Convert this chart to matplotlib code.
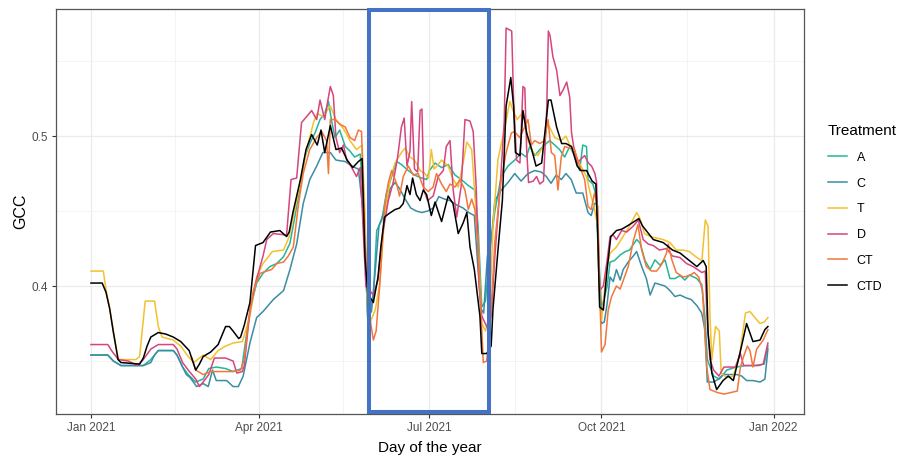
import numpy as np
import pandas as pd
import matplotlib
matplotlib.use('Agg')
import matplotlib.pyplot as plt
from matplotlib.patches import Rectangle

plt.rcParams['font.family'] = ['Liberation Sans', 'DejaVu Sans']

start = pd.Timestamp('2021-01-01')

# (days since 1 Jan 2021, GCC)
a_pts = [(0, 0.354), (9, 0.354), (12, 0.35), (16, 0.347), (28, 0.347), (32, 0.351), (36, 0.357),
         (44, 0.357), (46, 0.354), (49, 0.346), (52, 0.341), (56, 0.336), (60, 0.338), (63, 0.345),
         (67, 0.346), (72, 0.345), (76, 0.343), (80.6, 0.345), (83, 0.366), (86, 0.389), (88.6, 0.402),
         (92, 0.4085), (95.7, 0.413), (99.3, 0.415), (103, 0.4196), (106.4, 0.4285), (109, 0.446),
         (111.8, 0.466), (114.4, 0.486), (117, 0.495), (119.8, 0.502), (122.5, 0.511), (125, 0.515),
         (127, 0.523), (128.7, 0.51), (130.5, 0.499), (133, 0.504), (136, 0.493), (138.5, 0.49),
         (141, 0.486), (144, 0.488), (146, 0.45), (148, 0.377), (151, 0.393), (152.8, 0.437),
         (155.5, 0.444), (158, 0.462), (160.8, 0.473), (163.5, 0.483), (166, 0.481), (169.7, 0.477),
         (173, 0.474), (176.8, 0.472), (179.5, 0.471), (181, 0.477), (184, 0.482), (187.5, 0.479),
         (191, 0.481), (194.7, 0.474), (198, 0.471), (201.8, 0.467), (205.3, 0.464), (207, 0.44),
         (209, 0.386), (211, 0.39), (213, 0.42), (216, 0.45), (219.4, 0.473), (223, 0.48),
         (226.6, 0.484), (230, 0.4885), (232.8, 0.486), (234.6, 0.493), (237.3, 0.487), (240, 0.491),
         (242.6, 0.494), (245.3, 0.497), (248, 0.494), (250.6, 0.491), (253.3, 0.486), (256, 0.493),
         (258.6, 0.487), (261.3, 0.477), (263, 0.494), (265, 0.493), (265.8, 0.471), (268.4, 0.468),
         (270.2, 0.46), (271.5, 0.42), (273, 0.385), (276, 0.3996), (277.6, 0.416), (280, 0.417),
         (283, 0.4207), (285.6, 0.4229), (288, 0.424), (291.8, 0.431), (293.6, 0.4287), (296.3, 0.417),
         (299, 0.411), (301.6, 0.4174), (304.3, 0.414), (307, 0.4174), (309.6, 0.405), (312.3, 0.405),
         (315, 0.407), (317.6, 0.404), (320, 0.4074), (324, 0.405), (326.6, 0.401), (328.3, 0.38),
         (329.6, 0.351), (333, 0.34), (336, 0.338), (340, 0.344), (345, 0.346), (350, 0.347),
         (355, 0.347), (360, 0.348), (362, 0.36)]

c_pts = [(0, 0.354), (9, 0.354), (12, 0.35), (16, 0.347), (28, 0.347), (32, 0.349), (34, 0.354),
         (36, 0.357), (44, 0.357), (46, 0.354), (49, 0.346), (51, 0.341), (53, 0.339), (56.5, 0.333),
         (60, 0.335), (62.7, 0.333), (65, 0.344), (67, 0.337), (72.6, 0.337), (76, 0.333),
         (78.8, 0.333), (81.4, 0.34), (85, 0.362), (88.6, 0.379), (92, 0.383), (97.5, 0.391),
         (103, 0.397), (106.4, 0.411), (110, 0.428), (113.5, 0.455), (117, 0.471), (120.7, 0.48),
         (124, 0.489), (128, 0.489), (131, 0.484), (136, 0.483), (140, 0.4796), (143, 0.478),
         (145.5, 0.45), (148, 0.38), (150, 0.383), (152, 0.41), (154, 0.44), (157, 0.45), (160, 0.465),
         (162.6, 0.469), (165, 0.465), (168, 0.458), (171, 0.452), (174, 0.45), (177, 0.449),
         (180, 0.45), (183, 0.452), (186, 0.4596), (189, 0.458), (192, 0.457), (195.6, 0.454),
         (199, 0.452), (202, 0.449), (205, 0.447), (206.5, 0.42), (208.5, 0.385), (210, 0.382),
         (212, 0.42), (214, 0.43), (216, 0.457), (219.4, 0.464), (223, 0.469), (226.6, 0.475),
         (230, 0.47), (233.7, 0.475), (237.3, 0.477), (240.8, 0.476), (243.5, 0.473), (246, 0.4685),
         (248.8, 0.474), (251.5, 0.471), (254, 0.475), (256.8, 0.471), (259.5, 0.462), (263, 0.462),
         (265.8, 0.449), (267.5, 0.447), (269.3, 0.455), (270.4, 0.455), (271.5, 0.41), (273, 0.375),
         (274.5, 0.376), (276, 0.388), (277.6, 0.406), (279.3, 0.403), (281, 0.411), (283, 0.404),
         (284.6, 0.411), (287.3, 0.416), (290, 0.42), (291.8, 0.423), (294.5, 0.413), (297, 0.405),
         (299, 0.394), (301.6, 0.402), (304.3, 0.401), (307, 0.4), (309.6, 0.397), (312.3, 0.393),
         (315, 0.394), (318.5, 0.392), (321, 0.391), (324, 0.387), (326.6, 0.382), (328.3, 0.371),
         (329.6, 0.336), (332.9, 0.336), (335.6, 0.338), (338.3, 0.341), (342, 0.341), (345.5, 0.341),
         (348, 0.34), (350.6, 0.337), (354, 0.337), (357.8, 0.336), (360.4, 0.338), (362, 0.358)]

t_pts = [(0, 0.41), (6.6, 0.41), (8, 0.398), (10, 0.385), (12, 0.37), (14.6, 0.351), (24, 0.351),
         (26, 0.353), (29, 0.39), (34, 0.39), (36, 0.373), (38, 0.366), (44, 0.364), (48, 0.36),
         (52, 0.353), (55, 0.349), (60, 0.354), (64, 0.351), (68, 0.357), (72, 0.36), (76, 0.362),
         (81, 0.363), (85, 0.38), (88.6, 0.406), (92, 0.415), (97, 0.423), (103, 0.424), (106, 0.433),
         (109, 0.451), (112, 0.469), (115, 0.489), (119, 0.509), (121, 0.515), (124, 0.513),
         (128, 0.52), (131, 0.511), (135, 0.505), (138.5, 0.497), (142, 0.491), (145, 0.494),
         (146.5, 0.45), (148, 0.38), (149, 0.375), (152, 0.384), (154.5, 0.402), (157, 0.446),
         (160, 0.471), (162.6, 0.482), (166, 0.489), (168, 0.492), (170.6, 0.486), (173, 0.484),
         (176, 0.477), (178.6, 0.475), (180.5, 0.472), (182, 0.491), (183.5, 0.478), (185, 0.48),
         (187.5, 0.484), (191, 0.48), (193.7, 0.471), (196.4, 0.466), (199, 0.482), (201, 0.496),
         (203.6, 0.491), (205, 0.466), (207, 0.431), (209, 0.375), (211, 0.37), (213, 0.38),
         (215, 0.44), (217.6, 0.484), (221, 0.504), (224, 0.523), (225.7, 0.517), (228, 0.511),
         (231, 0.516), (233.7, 0.497), (236.4, 0.489), (239, 0.487), (241.7, 0.493), (244, 0.509),
         (248, 0.499), (251.5, 0.497), (254, 0.5), (257, 0.491), (259.5, 0.486), (262, 0.48),
         (265, 0.473), (267, 0.462), (269, 0.453), (271, 0.44), (272, 0.39), (273, 0.377),
         (276, 0.413), (277.6, 0.422), (281, 0.426), (284.5, 0.433), (288, 0.44), (291.8, 0.449),
         (293.6, 0.445), (296, 0.435), (299, 0.433), (302.5, 0.432), (306, 0.431), (309.6, 0.429),
         (313, 0.424), (316.7, 0.424), (320, 0.423), (324, 0.419), (326.7, 0.417), (328.5, 0.444),
         (330, 0.44), (331, 0.38), (332, 0.351), (334, 0.373), (336, 0.37), (337, 0.342),
         (340, 0.339), (343.5, 0.34), (347, 0.355), (350, 0.382), (352.4, 0.383), (355, 0.379),
         (357.8, 0.375), (360, 0.376), (362, 0.379)]

d_pts = [(0, 0.361), (9, 0.361), (11, 0.357), (14.6, 0.351), (20, 0.35), (25, 0.347), (28, 0.351),
         (32, 0.358), (36, 0.361), (44, 0.361), (46, 0.358), (49, 0.349), (52, 0.344), (56, 0.338),
         (58, 0.333), (60, 0.336), (63, 0.341), (66, 0.352), (72, 0.352), (76, 0.35), (78, 0.342),
         (81, 0.343), (82, 0.347), (85, 0.384), (88, 0.402), (90, 0.411), (92, 0.42), (94, 0.431),
         (97.5, 0.435), (104.6, 0.434), (107, 0.471), (110, 0.472), (112.6, 0.509), (114, 0.511),
         (118, 0.517), (120.7, 0.511), (122.5, 0.524), (125, 0.511), (127, 0.526), (128, 0.533),
         (129.6, 0.527), (131, 0.499), (133, 0.489), (135, 0.494), (136.7, 0.484), (139, 0.48),
         (142, 0.473), (144, 0.479), (145.5, 0.44), (147, 0.4), (149, 0.397), (151, 0.394),
         (153.5, 0.404), (156, 0.435), (159, 0.457), (161.6, 0.469), (164, 0.486), (166, 0.506),
         (167.5, 0.512), (169, 0.48), (170.6, 0.49), (171.5, 0.523), (173, 0.478), (174.7, 0.476),
         (176, 0.517), (177, 0.518), (178, 0.464), (180, 0.457), (183, 0.46), (185.7, 0.473),
         (188.4, 0.477), (190, 0.493), (192, 0.497), (193.7, 0.464), (195.6, 0.446), (198, 0.467),
         (200, 0.511), (202.7, 0.51), (204.4, 0.503), (206, 0.466), (207.5, 0.402), (209, 0.38),
         (212, 0.372), (214, 0.38), (216, 0.42), (219, 0.47), (221, 0.51), (222, 0.572),
         (225, 0.57), (226, 0.524), (227.6, 0.484), (229.4, 0.482), (231, 0.533), (232, 0.532),
         (233, 0.491), (234, 0.469), (236.5, 0.47), (238.3, 0.473), (240, 0.468), (242, 0.47),
         (243.7, 0.517), (244.6, 0.57), (245.5, 0.567), (247, 0.553), (249, 0.544), (250.8, 0.527),
         (252.6, 0.531), (254.4, 0.536), (256, 0.526), (257, 0.502), (258, 0.494), (260, 0.482),
         (261.5, 0.484), (264, 0.487), (266, 0.482), (267.7, 0.48), (269.5, 0.475), (270.4, 0.469),
         (271.3, 0.431), (272, 0.397), (274, 0.4), (276, 0.417), (277.6, 0.433), (279.3, 0.434),
         (281, 0.431), (283.8, 0.437), (286.5, 0.436), (290, 0.44), (292.7, 0.444), (295.3, 0.431),
         (298, 0.428), (300.7, 0.427), (304, 0.424), (307.8, 0.425), (311, 0.42), (315, 0.419),
         (318.5, 0.415), (322, 0.413), (326.7, 0.409), (328.5, 0.41), (329.4, 0.38), (331, 0.351),
         (333, 0.344), (335.8, 0.34), (338.5, 0.346), (341, 0.346), (344.6, 0.346), (347.3, 0.355),
         (349, 0.347), (353.5, 0.347), (357, 0.347), (359.5, 0.348), (362, 0.362)]

ct_pts = [(54, 0.352), (56, 0.344), (60, 0.341), (64, 0.343), (70, 0.343), (76, 0.343), (80, 0.344),
          (82, 0.351), (84, 0.375), (86.8, 0.397), (90.4, 0.4085), (94, 0.41), (96.6, 0.411),
          (99.3, 0.415), (103, 0.416), (105.5, 0.42), (108.2, 0.426), (111, 0.455), (113.5, 0.475),
          (117, 0.491), (120.7, 0.499), (123.4, 0.503), (126, 0.497), (127, 0.475), (128, 0.511),
          (130.5, 0.511), (133, 0.508), (136, 0.506), (138.5, 0.499), (141, 0.497), (143, 0.504),
          (144.7, 0.503), (146.5, 0.43), (149, 0.38), (151, 0.364), (152.5, 0.37), (154.5, 0.402),
          (157, 0.453), (159, 0.469), (160.8, 0.477), (163.5, 0.468), (165, 0.46), (167, 0.473),
          (169.7, 0.48), (172.4, 0.474), (175, 0.475), (177.7, 0.466), (180.4, 0.463), (183, 0.466),
          (184.8, 0.475), (187.5, 0.468), (190, 0.463), (192, 0.468), (194.7, 0.466), (197.3, 0.471),
          (200, 0.464), (201.8, 0.451), (203.6, 0.458), (205.3, 0.451), (207, 0.426), (209, 0.37),
          (209.8, 0.349), (211.6, 0.35), (213.4, 0.371), (216, 0.43), (219.4, 0.471), (222, 0.489),
          (224.8, 0.502), (226.6, 0.503), (229.2, 0.499), (231.9, 0.506), (233.7, 0.511),
          (235.5, 0.494), (237.3, 0.497), (240, 0.495), (242.6, 0.497), (244.4, 0.511),
          (246.2, 0.489), (248, 0.487), (249.7, 0.464), (251.5, 0.486), (253.3, 0.493), (256, 0.492),
          (258.6, 0.491), (261.3, 0.48), (264, 0.471), (265.8, 0.453), (267.5, 0.451), (269.3, 0.462),
          (271, 0.453), (272, 0.4), (273, 0.356), (274.9, 0.361), (276.6, 0.384), (278.4, 0.393),
          (281, 0.4), (283, 0.398), (284.7, 0.404), (287.3, 0.413), (290, 0.43), (292.5, 0.441),
          (294.5, 0.424), (297, 0.413), (299.8, 0.41), (302.5, 0.41), (305, 0.414), (307.8, 0.422),
          (308.7, 0.428), (310.5, 0.418), (313, 0.409), (316.7, 0.406), (320, 0.407), (322.6, 0.409),
          (325, 0.406), (327, 0.397), (329.3, 0.346), (331, 0.331), (335, 0.329), (338.6, 0.328),
          (342, 0.329), (345.6, 0.33), (347.3, 0.346), (349, 0.353), (351, 0.36), (352.4, 0.357),
          (354, 0.346), (356, 0.358), (359.5, 0.364), (362, 0.371)]

ctd_pts = [(0, 0.402), (6, 0.402), (8, 0.396), (10, 0.385), (12, 0.369), (14.5, 0.351), (16, 0.349),
           (26, 0.348), (28, 0.352), (30, 0.36), (32, 0.366), (36, 0.369), (40, 0.368), (44, 0.366),
           (48, 0.363), (51, 0.359), (52.5, 0.357), (56, 0.344), (58, 0.348), (60, 0.353), (64, 0.356),
           (68, 0.361), (72, 0.373), (74, 0.373), (76, 0.37), (79, 0.365), (80, 0.366), (82, 0.374),
           (85, 0.389), (88, 0.427), (92, 0.429), (96, 0.436), (101, 0.437), (104.6, 0.433),
           (106, 0.436), (108, 0.449), (110, 0.46), (112, 0.471), (115, 0.491), (118, 0.501),
           (121, 0.494), (123, 0.504), (125, 0.489), (128, 0.507), (131, 0.491), (134, 0.492),
           (137, 0.484), (140, 0.479), (143, 0.483), (145, 0.485), (146.5, 0.42), (148, 0.395),
           (151, 0.389), (153.5, 0.406), (155, 0.426), (157, 0.446), (159, 0.448), (162.6, 0.451),
           (165, 0.452), (167, 0.455), (169, 0.467), (170.6, 0.461), (172, 0.472), (174, 0.461),
           (176, 0.457), (177.7, 0.464), (179.5, 0.461), (182, 0.447), (184, 0.456), (187.5, 0.443),
           (191, 0.46), (193.6, 0.455), (196.4, 0.435), (199, 0.442), (201, 0.449), (202.7, 0.426),
           (205, 0.411), (208, 0.38), (209, 0.355), (211.6, 0.355), (214, 0.36), (215, 0.385),
           (218, 0.429), (220, 0.457), (222, 0.52), (224.5, 0.539), (226, 0.52), (227, 0.489),
           (229.4, 0.487), (231, 0.517), (233, 0.502), (235.7, 0.491), (238, 0.48), (241, 0.482),
           (244.6, 0.524), (246, 0.524), (249, 0.506), (251.7, 0.495), (254, 0.495), (257, 0.493),
           (260, 0.48), (262, 0.477), (265, 0.477), (268, 0.47), (270, 0.468), (271, 0.435),
           (272, 0.386), (274, 0.384), (276, 0.411), (278, 0.433), (281, 0.437), (284, 0.438),
           (288, 0.441), (293, 0.445), (295, 0.44), (300.7, 0.431), (306, 0.429), (311, 0.424),
           (315, 0.422), (320, 0.417), (324, 0.413), (327.4, 0.417), (329, 0.413), (330, 0.369),
           (332, 0.342), (334.6, 0.331), (338, 0.337), (340.8, 0.34), (343.5, 0.337), (347, 0.355),
           (350.6, 0.375), (354, 0.363), (357.8, 0.364), (360.4, 0.371), (362, 0.373)]

treatments = ['A', 'C', 'T', 'D', 'CT', 'CTD']
series = [a_pts, c_pts, t_pts, d_pts, ct_pts, ctd_pts]
colors = ['#24B59B', '#3A8DA3', '#F2C12E', '#D6457E', '#F1773C', '#000000']

xtick_dates = ['2021-01-01', '2021-04-01', '2021-07-01', '2021-10-01', '2022-01-01']
xtick_labels = ['Jan 2021', 'Apr 2021', 'Jul 2021', 'Oct 2021', 'Jan 2022']
xminor_dates = ['2021-02-15', '2021-05-16', '2021-08-16', '2021-11-16']
yticks = [0.4, 0.5]
yminor = [0.35, 0.45, 0.55]

fig = plt.figure(figsize=(8.99, 4.59), dpi=100)
ax = fig.add_axes([56 / 899, 45 / 459, 748 / 899, 405 / 459])

for name, pts, col in zip(treatments, series, colors):
    d, g = zip(*pts)
    x = start + pd.to_timedelta(np.array(d), unit='D')
    ax.plot(x, g, color=col, lw=1.1, label=name)

ax.set_xlim(start + pd.Timedelta(days=-18.7), start + pd.Timedelta(days=381.3))
ax.set_ylim(0.3147, 0.5847)

ax.set_xticks(pd.to_datetime(xtick_dates))
ax.set_xticklabels(xtick_labels)
ax.set_xticks(pd.to_datetime(xminor_dates), minor=True)
ax.set_yticks(yticks)
ax.set_yticklabels(['0.4', '0.5'])
ax.set_yticks(yminor, minor=True)

ax.grid(which='major', color='#EBEBEB', lw=0.9)
ax.grid(which='minor', color='#F3F3F3', lw=0.6)
ax.set_axisbelow(True)
ax.tick_params(which='major', length=3, width=0.8, color='#333333',
               labelcolor='#4D4D4D', labelsize=8.5, pad=3)
ax.tick_params(which='minor', length=0)
for sp in ax.spines.values():
    sp.set_color('#555555')
    sp.set_linewidth(0.9)

ax.set_xlabel('Day of the year', fontsize=11, labelpad=5)
ax.set_ylabel('GCC', fontsize=11.5, labelpad=2)

# blue box around the summer period
box = Rectangle((start + pd.Timedelta(days=148.7), 0.004), pd.Timedelta(days=64.1), 0.993,
                transform=ax.get_xaxis_transform(), fill=False, edgecolor='#4472C4',
                lw=2.9, clip_on=False, zorder=10)
ax.add_patch(box)

leg = ax.legend(title='Treatment', loc='upper left', bbox_to_anchor=(828 / 899, 1 - 124 / 459),
                bbox_transform=fig.transFigure, frameon=False, fontsize=9, title_fontsize=11,
                handlelength=1.55, handletextpad=0.75, labelspacing=1.1, borderpad=0, borderaxespad=0)
leg._legend_box.align = 'left'

fig.savefig('out.png', dpi=100)
